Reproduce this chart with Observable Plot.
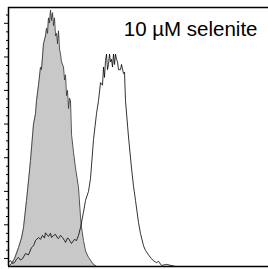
<!DOCTYPE html>
<html>
<head>
<meta charset="utf-8">
<script src="https://cdn.jsdelivr.net/npm/d3@7"></script>
<script src="https://cdn.jsdelivr.net/npm/@observablehq/plot@0.6"></script>
<style>
  html, body { margin: 0; padding: 0; background: #fff; }
  #chart { width: 268px; height: 269px; overflow: hidden; }
  svg { display: block; }
</style>
</head>
<body>
<div id="chart"></div>
<script>
// Control (filled grey) histogram: channel vs relative count
const controlChannel = [0, 3, 6, 10, 13, 15, 18, 20, 22, 25, 27, 28, 30, 32, 33, 35, 37, 38, 39, 40, 41, 42, 43, 44, 45, 46, 47, 48, 49, 50, 51, 52, 53, 55, 56, 57, 58, 59, 60, 61, 62, 63, 65, 67, 69, 70, 72, 73, 75, 77, 80, 82, 84, 88, 95];
const controlCount   = [0, 1.2, 3, 7.3, 11, 15, 25.5, 33, 41, 55, 59, 64, 70, 77, 76, 86, 89, 92, 90, 96, 94, 99, 95, 98, 93, 96, 89, 90, 86, 91, 84, 82, 79, 77, 72, 74, 66, 68, 61, 65, 64, 51, 44, 38, 33, 30.5, 19, 15, 10, 6, 3.5, 2.5, 1.2, 0, 0];

// 10 µM selenite (open) histogram
const seleniteChannel = [0, 2, 4, 6, 8, 10, 12, 14, 17, 20, 23, 25, 27, 30, 32, 34, 36, 37, 39, 40, 42, 43, 45, 47, 49, 50, 52, 54, 56, 57, 59, 60, 62, 63, 66, 68, 70, 72, 75, 77, 80, 82, 85, 88, 90, 92, 94, 95, 96, 97, 98, 99, 100, 101, 102, 103, 104, 105, 106, 107, 108, 109, 110, 112, 113, 115, 116, 117, 120, 123, 125, 127, 130, 132, 135, 137, 140, 143, 145, 148, 150, 153, 158, 167, 175];
const seleniteCount   = [1.5, 2.3, 1.2, 1.5, 2.8, 3.5, 2.5, 3, 5, 4.5, 7.3, 8, 10, 11.2, 10.5, 12, 11, 13, 12, 11.6, 12.8, 11.2, 12, 12.4, 11, 10.8, 12, 11.2, 10, 9.3, 11, 10.8, 9.5, 8.9, 10.5, 10, 12, 15, 21, 25.5, 29, 34, 49, 59, 64, 71, 70, 77, 73, 79.5, 82, 76, 78, 82, 79, 80, 77, 82, 78, 82, 80, 79, 76, 76, 78, 74.5, 75, 64, 50, 38, 31, 25.5, 17, 12.7, 8, 6.2, 4.5, 3, 2.2, 1.5, 2, 0.4, 0.8, 0, 0];

const titleText = "10 µM selenite";
const yMajorTicks = [3.1, 16.1, 29.0, 42.0, 55.0, 68.0, 80.9, 93.9];
const yMinorTicks = [6.3, 9.6, 12.8, 19.3, 22.6, 25.8, 32.2, 35.5, 38.7, 45.2, 48.5, 51.7, 58.2, 61.4, 64.7, 71.1, 74.4, 77.6, 84.1, 87.3, 90.6, 97.1];

const control = controlChannel.map((x, i) => ({x, y: controlCount[i]}));
const selenite = seleniteChannel.map((x, i) => ({x, y: seleniteCount[i]}));

const chart = Plot.plot({
  width: 268,
  height: 269,
  marginLeft: 8,
  marginRight: 0,
  marginTop: 7,
  marginBottom: 3,
  style: {fontFamily: "'Liberation Sans', Arial, sans-serif", background: "#fff"},
  x: {domain: [0, 260], axis: null},
  y: {domain: [0, 100], axis: null},
  marks: [
    Plot.areaY(control, {x: "x", y: "y", fill: "#c8c8c8", curve: "linear"}),
    Plot.lineY(control, {x: "x", y: "y", stroke: "#3a3a3a", strokeWidth: 0.9}),
    Plot.lineY(selenite, {x: "x", y: "y", stroke: "#000", strokeWidth: 0.8}),
    Plot.axisY({ticks: yMajorTicks, tickSize: 4, tickFormat: () => "", label: null, stroke: "#000"}),
    Plot.axisY({ticks: yMinorTicks, tickSize: 2, tickFormat: () => "", label: null, stroke: "#000"}),
    Plot.ruleX([0], {stroke: "#000", strokeWidth: 1.5}),
    Plot.ruleY([0], {stroke: "#000", strokeWidth: 1.5}),
    Plot.ruleY([100], {stroke: "#000", strokeWidth: 1.5}),
    Plot.text([titleText], {frameAnchor: "top-right", textAnchor: "end", lineAnchor: "bottom", dx: -11, dy: 28, fontSize: 20.5, fill: "#000"})
  ]
});
document.getElementById("chart").appendChild(chart);
</script>
</body>
</html>
